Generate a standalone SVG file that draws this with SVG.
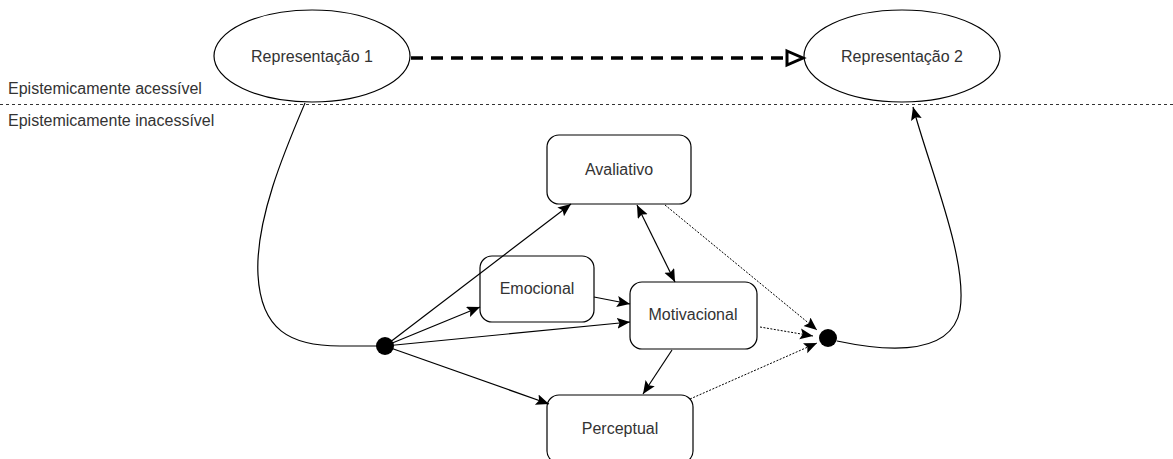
<svg xmlns="http://www.w3.org/2000/svg" width="1173" height="459" viewBox="0 0 1173 459">
<style>
.lbl{font-family:"Liberation Sans",Arial,sans-serif;font-size:16px;fill:#333}
.c{text-anchor:middle}
.node{fill:#fff;stroke:#000;stroke-width:1.2}
.edge{fill:none;stroke:#000;stroke-width:1.2}
.dot{fill:none;stroke:#000;stroke-width:1;stroke-dasharray:2 1.5}
</style>
<defs>
<marker id="arr" markerUnits="userSpaceOnUse" markerWidth="16" markerHeight="14" refX="13" refY="5.5" orient="auto">
<path d="M0,0 L13,5.5 L0,11 L2.5,5.5 z" fill="#000"/>
</marker>
<marker id="arrs" markerUnits="userSpaceOnUse" markerWidth="16" markerHeight="14" refX="13" refY="5.5" orient="auto-start-reverse">
<path d="M0,0 L13,5.5 L0,11 L2.5,5.5 z" fill="#000"/>
</marker>
</defs>
<g id="boundary">
<line x1="0" y1="104.5" x2="1173" y2="104.5" stroke="#333" stroke-width="1" stroke-dasharray="3 3"/>
<text class="lbl" x="8" y="94">Epistemicamente acessível</text>
<text class="lbl" x="8" y="126">Epistemicamente inacessível</text>
</g>
<g id="rep1">
<ellipse class="node" cx="312" cy="56" rx="98" ry="46"/>
<text class="lbl c" x="312" y="62">Representação 1</text>
</g>
<g id="rep2">
<ellipse class="node" cx="902" cy="56" rx="98" ry="46"/>
<text class="lbl c" x="902" y="62">Representação 2</text>
</g>
<g id="avaliativo">
<rect class="node" x="547" y="135" width="144" height="69" rx="12"/>
<text class="lbl c" x="619" y="175">Avaliativo</text>
</g>
<g id="emocional">
<rect class="node" x="480" y="256" width="114" height="66" rx="12"/>
<text class="lbl c" x="537" y="294">Emocional</text>
</g>
<g id="motivacional">
<rect class="node" x="630" y="282" width="127" height="67" rx="12"/>
<text class="lbl c" x="693" y="320">Motivacional</text>
</g>
<g id="perceptual">
<rect class="node" x="547" y="395" width="146" height="68" rx="12"/>
<text class="lbl c" x="620" y="434">Perceptual</text>
</g>
<g id="connectors">
<path class="edge" d="M305,103 C285,150 255,220 258,275 C261,330 290,346 340,346 L377,346"/>
<line x1="385" y1="346" x2="571" y2="204" class="edge" marker-end="url(#arr)"/>
<line x1="385" y1="346" x2="480" y2="307" class="edge" marker-end="url(#arr)"/>
<line x1="385" y1="346" x2="630" y2="322" class="edge" marker-end="url(#arr)"/>
<line x1="385" y1="346" x2="549" y2="404" class="edge" marker-end="url(#arr)"/>
<line x1="594" y1="297" x2="630" y2="304" class="edge" marker-end="url(#arr)"/>
<line x1="637" y1="205" x2="675" y2="282" class="edge" marker-start="url(#arrs)" marker-end="url(#arr)"/>
<line x1="672" y1="350" x2="643" y2="394" class="edge" marker-end="url(#arr)"/>
<line x1="665" y1="205" x2="817" y2="330" class="dot" marker-end="url(#arr)"/>
<line x1="760" y1="327" x2="813" y2="336" class="dot" marker-end="url(#arr)"/>
<line x1="690" y1="399" x2="817" y2="343" class="dot" marker-end="url(#arr)"/>
<path class="edge" d="M837,341 C870,348 950,362 960,310 C968,260 930,170 913,107" marker-end="url(#arr)"/>
<line x1="411" y1="58" x2="786" y2="58" stroke="#000" stroke-width="3.5" stroke-dasharray="12 8"/>
<path d="M787,51 L803,58 L787,65 z" fill="#fff" stroke="#000" stroke-width="3" stroke-linejoin="miter"/>
</g>
<g id="junction1"><circle cx="385" cy="346" r="9" fill="#000"/></g>
<g id="junction2"><circle cx="828" cy="338" r="9" fill="#000"/></g>
</svg>
